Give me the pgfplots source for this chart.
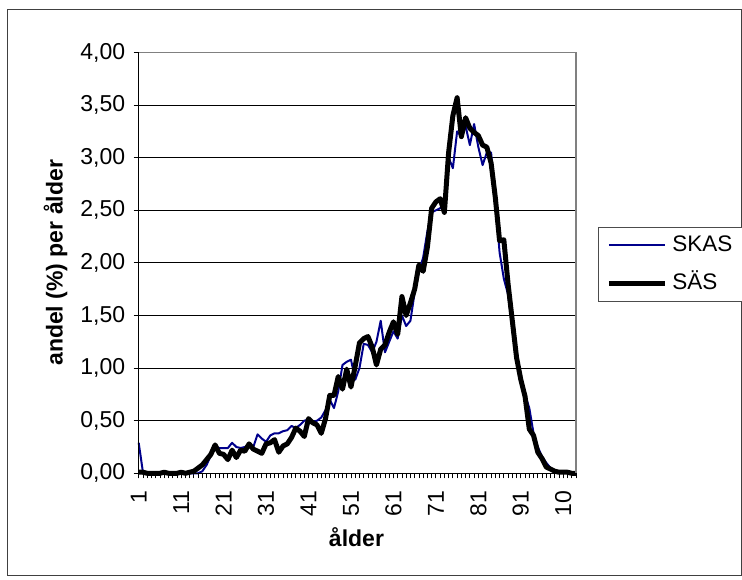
\documentclass[border=0pt]{standalone}
\usepackage{fontspec}
\setmainfont{Liberation Sans}
\usepackage{pgfplots}
\usepackage{pgfplotstable}
\pgfplotsset{compat=1.18}

\definecolor{skasblue}{RGB}{0,0,140}
\definecolor{framegray}{RGB}{128,128,128}

% andel (%) per ålder, SKAS and SÄS
\pgfplotstableread{
age skas sas
1 0.29 0.01
2 0.01 0.01
3 0.00 0.00
4 0.00 0.00
5 0.00 0.00
6 0.00 0.00
7 0.01 0.01
8 0.00 0.00
9 0.00 0.00
10 0.00 0.00
11 0.00 0.01
12 0.00 0.00
13 0.00 0.01
14 0.00 0.02
15 0.00 0.05
16 0.02 0.08
17 0.08 0.13
18 0.17 0.18
19 0.25 0.27
20 0.24 0.19
21 0.24 0.18
22 0.24 0.13
23 0.29 0.22
24 0.25 0.15
25 0.24 0.22
26 0.25 0.21
27 0.27 0.28
28 0.25 0.23
29 0.37 0.21
30 0.33 0.19
31 0.30 0.28
32 0.36 0.29
33 0.38 0.32
34 0.38 0.20
35 0.40 0.26
36 0.41 0.28
37 0.45 0.34
38 0.43 0.43
39 0.46 0.40
40 0.50 0.35
41 0.51 0.52
42 0.49 0.48
43 0.50 0.46
44 0.53 0.38
45 0.60 0.52
46 0.70 0.74
47 0.62 0.74
48 0.78 0.92
49 1.03 0.80
50 1.06 0.99
51 1.08 0.82
52 0.89 1.02
53 1.00 1.24
54 1.23 1.28
55 1.22 1.30
56 1.15 1.20
57 1.25 1.03
58 1.45 1.18
59 1.15 1.22
60 1.25 1.34
61 1.35 1.44
62 1.28 1.32
63 1.50 1.68
64 1.40 1.50
65 1.45 1.62
66 1.72 1.75
67 1.92 1.98
68 2.05 1.92
69 2.30 2.15
70 2.48 2.52
71 2.50 2.58
72 2.52 2.61
73 2.56 2.48
74 3.00 3.05
75 2.90 3.40
76 3.25 3.57
77 3.20 3.20
78 3.30 3.38
79 3.12 3.28
80 3.32 3.24
81 3.10 3.21
82 2.93 3.12
83 3.05 3.10
84 3.05 2.95
85 2.60 2.62
86 2.10 2.21
87 1.85 2.22
88 1.70 1.80
89 1.40 1.45
90 1.10 1.10
91 0.90 0.89
92 0.75 0.73
93 0.62 0.42
94 0.38 0.36
95 0.25 0.20
96 0.16 0.14
97 0.10 0.06
98 0.05 0.04
99 0.02 0.02
100 0.01 0.01
101 0.01 0.01
102 0.00 0.01
103 0.00 0.00
104 0.00 0.00
}\agedata

\begin{document}
\begin{tikzpicture}[x=1pt,y=1pt]
\useasboundingbox (0,0) rectangle (742,580);
% chart frame
\draw[line width=1pt, draw=black!75] (7.5,4) rectangle (741,570);
\begin{axis}[
  at={(138.7pt,106.7pt)}, anchor=south west,
  scale only axis, width=437.3pt, height=420.8pt,
  xmin=1, xmax=104, ymin=0, ymax=4,
  clip=false,
  axis line style={draw=none},
  xtick={1,11,21,31,41,51,61,71,81,91,101},
  xticklabels={1,11,21,31,41,51,61,71,81,91,10},
  minor xtick={1,...,104},
  ytick={0,0.5,...,4},
  xtick pos=lower, ytick pos=left,
  tick align=outside,
  major tick length=5pt, minor tick length=5pt,
  every tick/.style={black, line width=0.8pt},
  ymajorgrids,
  major grid style={black, line width=0.9pt},
  /pgf/number format/.cd, fixed, fixed zerofill, precision=2, use comma,
  assume math mode=true,
  /pgfplots/.cd,
  yticklabel style={font=\fontsize{23}{25}\selectfont, anchor=east, xshift=-5pt},
  xticklabel style={font=\fontsize{23}{25}\selectfont, yshift=-9pt, rotate=90, anchor=east},
  xlabel={\textbf{ålder}},
  ylabel={\textbf{andel (\%) per ålder}},
  label style={font=\fontsize{23}{25}\selectfont},
  xlabel style={at={(axis description cs:0.498,-0.152)}, anchor=center},
  ylabel style={at={(axis description cs:-0.19, 0.5)}, anchor=center},
  legend style={
    at={(axis description cs:1.0503,0.5853)}, anchor=north west,
    draw=black!70, line width=0.8pt, fill=white,
    font=\fontsize{22.5}{24}\selectfont,
    inner xsep=8pt, inner ysep=2pt, row sep=6pt,
    nodes={inner xsep=5pt, inner ysep=6pt, text height=16pt, text depth=4pt},
    legend cell align=left,
  },
  legend image code/.code={\draw[#1] (0pt,0pt) -- (56pt,0pt);},
]
\addplot[skasblue, line width=2pt, line join=round] table[x=age, y=skas] {\agedata};
\addlegendentry{SKAS}
\addplot[black, line width=5pt, line join=round] table[x=age, y=sas] {\agedata};
\addlegendentry{SÄS}
\draw[framegray, line width=1.2pt] (rel axis cs:0,1) -- (rel axis cs:1,1) -- (rel axis cs:1,0);
\draw[black, line width=1.2pt] (rel axis cs:0,1) -- (rel axis cs:0,0) -- (rel axis cs:1,0);
\end{axis}
\end{tikzpicture}
\end{document}
